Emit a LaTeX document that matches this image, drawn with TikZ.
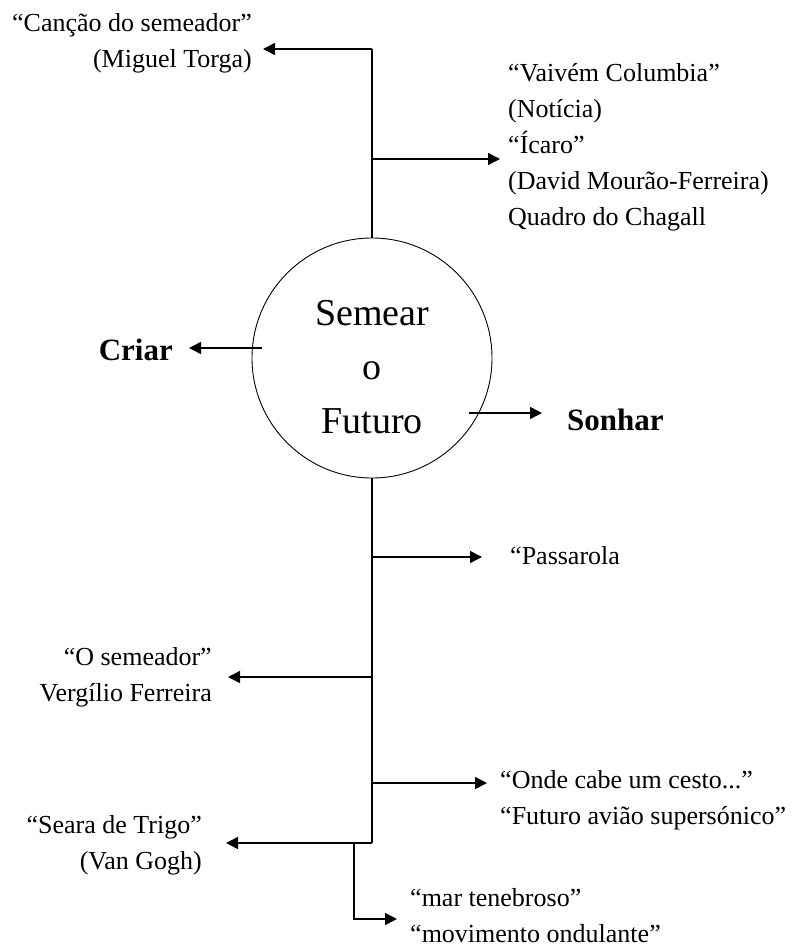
\documentclass[tikz,border=0pt]{standalone}
\usepackage{fontspec}
\setmainfont{Liberation Serif}
\usetikzlibrary{arrows.meta, positioning}

\begin{document}
\begin{tikzpicture}[x=1pt, y=-1pt,
    txt/.style={inner sep=0pt, font=\fontsize{26}{36}\selectfont},
    lblock/.style={txt, align=left, anchor=west},
    rblock/.style={txt, align=right, anchor=east},
    big/.style={inner sep=0pt, font=\fontsize{31}{38}\selectfont\bfseries},
    line/.style={line width=1.5pt},
    arrow/.style={-{Triangle[length=12pt, width=12pt]}, line width=1.5pt} ]
  \useasboundingbox (0,0) rectangle (797,949);

  % centre
  \node[draw, circle, minimum size=240pt, inner sep=0pt, line width=0.9pt] (centro) at (372,358) {};
  \node[align=center, inner sep=0pt, font=\fontsize{38}{54}\selectfont] (tema) at (372,367) {Semear\\o\\Futuro};
  \node[big, anchor=east] (criar)  at (173,350) {Criar};
  \node[big, anchor=west] (sonhar) at (567,420) {Sonhar};

  % texts
  \node[rblock] (cancao)   at (252,43)  {“Canção do semeador”\\(Miguel Torga)};
  \node[lblock] (vaivem)   at (508,147) {“Vaivém Columbia”\\(Notícia)\\“Ícaro”\\(David Mourão-Ferreira)\\Quadro do Chagall};
  \node[lblock] (passarola) at (510,556) {“Passarola};
  \node[rblock] (semeador) at (212,677) {“O semeador”\\Vergílio Ferreira};
  \node[lblock] (onde)     at (500,800) {“Onde cabe um cesto...”\\“Futuro avião supersónico”};
  \node[rblock] (seara)    at (202,845) {“Seara de Trigo”\\(Van Gogh)};
  \node[lblock] (mar)      at (410,916) {“mar tenebroso”\\“movimento ondulante”};

  % branch points
  \coordinate (topo)   at (372,49);
  \coordinate (ramoA)  at (372,159);
  \coordinate (criarA) at (262,348);
  \coordinate (sonharA) at (469,413);
  \coordinate (ramoB)  at (372,557);
  \coordinate (ramoC)  at (372,677);
  \coordinate (ramoD)  at (372,783);
  \coordinate (base)   at (372,843);
  \coordinate (desvio) at (354,843);
  \coordinate (marA)   at (354,919);

  \draw[line] (centro.north) -- (topo);
  \draw[line] (centro.south) -- (base);
  \draw[arrow] (topo) -- ([xshift=11pt]cancao.east |- topo);
  \draw[arrow] (ramoA) -- ([xshift=-8pt]vaivem.west |- ramoA);
  \draw[arrow] (criarA) -- ([xshift=16pt]criar.east |- criarA);
  \draw[arrow] (sonharA) -- ([xshift=-25pt]sonhar.west |- sonharA);
  \draw[arrow] (ramoB) -- ([xshift=-28pt]passarola.west |- ramoB);
  \draw[arrow] (ramoC) -- ([xshift=16pt]semeador.east |- ramoC);
  \draw[arrow] (ramoD) -- ([xshift=-13pt]onde.west |- ramoD);
  \draw[arrow] (base) -- ([xshift=24pt]seara.east |- base);
  \draw[arrow] (desvio) -- (marA) -- ([xshift=-13pt]mar.west |- marA);
\end{tikzpicture}
\end{document}
